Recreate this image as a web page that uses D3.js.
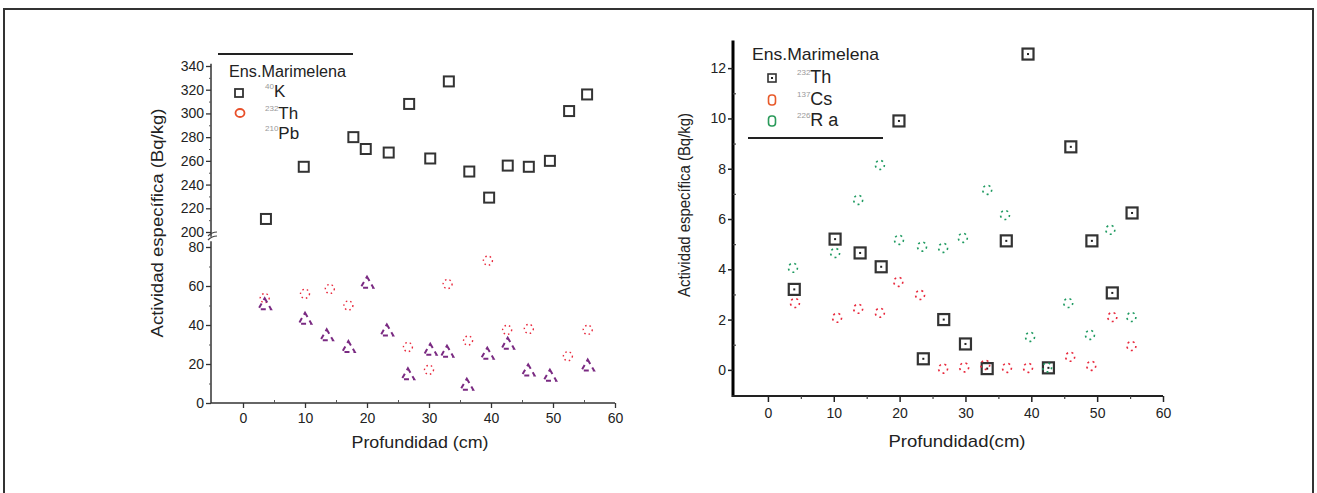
<!DOCTYPE html>
<html>
<head>
<meta charset="utf-8">
<script src="https://cdn.jsdelivr.net/npm/d3@7/dist/d3.min.js"></script>
<style>
  body { margin: 0; background: #fff; }
  svg { display: block; font-family: "Liberation Sans", Arial, sans-serif; }
  .tick text { fill: #222; }
</style>
</head>
<body>
<svg width="1317" height="493"></svg>
<script>
// ---- left panel data (Bq/kg) ----
var depthK  = [3.7, 9.8, 17.8, 19.8, 23.5, 26.8, 30.2, 33.2, 36.5, 39.7, 42.7, 46.1, 49.5, 52.6, 55.5];
var valK    = [211, 255, 280, 270, 267, 308, 262, 327, 251, 229, 256, 255, 260, 302, 316];
var depthTh = [3.5, 10, 14, 17, 26.6, 30, 33, 36.3, 39.5, 42.6, 46.1, 52.4, 55.6];
var valTh   = [53.8, 56, 58.5, 50, 28.7, 17, 61, 32, 73, 37.5, 38, 24, 37.5];
var depthPb = [3.5, 10, 13.5, 17, 20, 23.2, 26.6, 30.2, 32.9, 36.1, 39.4, 42.7, 46, 49.5, 55.6];
var valPb   = [50, 42.5, 34, 28, 61, 36.5, 14, 26.6, 25.6, 8.7, 24.6, 29.7, 16, 13.3, 18.5];

// ---- right panel data (Bq/kg) ----
var depthTh2 = [4, 10.2, 14, 17.2, 19.9, 23.6, 26.7, 30, 33.3, 36.2, 39.5, 42.6, 46, 49.2, 52.3, 55.3];
var valTh2   = [3.2, 5.2, 4.65, 4.1, 9.9, 0.44, 2.0, 1.03, 0.05, 5.13, 12.56, 0.08, 8.87, 5.13, 3.06, 6.24];
var depthCs  = [4.1, 10.5, 13.7, 17, 19.8, 23.1, 26.6, 29.8, 33, 36.3, 39.5, 45.9, 49.1, 52.3, 55.2];
var valCs    = [2.66, 2.07, 2.43, 2.27, 3.5, 2.98, 0.05, 0.1, 0.2, 0.08, 0.08, 0.52, 0.16, 2.1, 0.95];
var depthRa  = [3.8, 10.2, 13.7, 17, 19.9, 23.4, 26.6, 29.6, 33.3, 36, 39.8, 42.4, 45.6, 48.9, 52, 55.2];
var valRa    = [4.06, 4.65, 6.76, 8.15, 5.17, 4.9, 4.85, 5.25, 7.16, 6.16, 1.31, 0.1, 2.66, 1.39, 5.57, 2.1];

var xTicks = [0, 10, 20, 30, 40, 50, 60];
var xMinor = [5, 15, 25, 35, 45, 55];
var yTopTicks = [200, 220, 240, 260, 280, 300, 320, 340];
var yBotTicks = [0, 20, 40, 60, 80];
var yRTicks = [0, 2, 4, 6, 8, 10, 12];

var svg = d3.select("svg");

// outer frame
svg.append("rect")
  .attr("x", 4).attr("y", 9).attr("width", 1309).attr("height", 500)
  .attr("fill", "none").attr("stroke", "#333").attr("stroke-width", 2);

function zip(a, b) { return a.map(function(d, i) { return [d, b[i]]; }); }

function styleAxis(g, col, w) {
  g.select(".domain").remove();
  g.selectAll("line").attr("stroke", col).attr("stroke-width", w);
}

// ================= LEFT PANEL =================
var xL = d3.scaleLinear().domain([-5, 60]).range([212, 615]);
var yLt = d3.scaleLinear().domain([200, 340]).range([232, 66]);
var yLb = d3.scaleLinear().domain([0, 80]).range([403, 247]);
var left = svg.append("g");

// axis lines
left.append("line").attr("x1", 211).attr("x2", 211).attr("y1", yLt(342)).attr("y2", yLt(196))
  .attr("stroke", "#333").attr("stroke-width", 1.5);
left.append("line").attr("x1", 211).attr("x2", 211).attr("y1", yLb(83)).attr("y2", yLb(0))
  .attr("stroke", "#333").attr("stroke-width", 1.5);
left.append("line").attr("x1", 211).attr("x2", xL(60)).attr("y1", 403).attr("y2", 403)
  .attr("stroke", "#333").attr("stroke-width", 1.5);

// break marks
left.append("path").attr("d", "M208,236 q4,-4 9,-4 M208,240 q4,-4 9,-4")
  .attr("fill", "none").attr("stroke", "#444").attr("stroke-width", 1.2);

var gyt = left.append("g").attr("transform", "translate(211,0)")
  .call(d3.axisLeft(yLt).tickValues(yTopTicks).tickSize(5).tickPadding(2));
styleAxis(gyt, "#333", 1.3);
gyt.selectAll("text").attr("font-size", 14);
var gytm = left.append("g").attr("transform", "translate(211,0)")
  .call(d3.axisLeft(yLt).tickValues([210, 230, 250, 270, 290, 310, 330]).tickSize(2).tickFormat(""));
styleAxis(gytm, "#555", 1);

var gyb = left.append("g").attr("transform", "translate(211,0)")
  .call(d3.axisLeft(yLb).tickValues(yBotTicks).tickSize(5).tickPadding(2));
styleAxis(gyb, "#333", 1.3);
gyb.selectAll("text").attr("font-size", 14);
var gybm = left.append("g").attr("transform", "translate(211,0)")
  .call(d3.axisLeft(yLb).tickValues([10, 30, 50, 70]).tickSize(2).tickFormat(""));
styleAxis(gybm, "#555", 1);

var gxl = left.append("g").attr("transform", "translate(0,403)")
  .call(d3.axisBottom(xL).tickValues(xTicks).tickSize(5).tickPadding(5));
styleAxis(gxl, "#333", 1.3);
gxl.selectAll("text").attr("font-size", 14);
var gxlm = left.append("g").attr("transform", "translate(0,403)")
  .call(d3.axisBottom(xL).tickValues(xMinor).tickSize(-3).tickFormat(""));
styleAxis(gxlm, "#555", 1);

left.append("text").attr("x", 420).attr("y", 448).attr("text-anchor", "middle")
  .attr("font-size", 17).attr("textLength", 137).attr("lengthAdjust", "spacingAndGlyphs")
  .attr("fill", "#222").text("Profundidad (cm)");
left.append("text").attr("transform", "translate(163,223) rotate(-90)").attr("text-anchor", "middle")
  .attr("font-size", 16).attr("textLength", 229).attr("lengthAdjust", "spacingAndGlyphs")
  .attr("fill", "#222").text("Actividad específica  (Bq/kg)");

// K squares
left.append("g").selectAll("rect").data(zip(depthK, valK)).enter().append("rect")
  .attr("x", function(d) { return xL(d[0]) - 5; })
  .attr("y", function(d) { return yLt(d[1]) - 5; })
  .attr("width", 10).attr("height", 10)
  .attr("fill", "none").attr("stroke", "#333").attr("stroke-width", 2);

// Th circles (faint, broken)
left.append("g").selectAll("circle").data(zip(depthTh, valTh)).enter().append("circle")
  .attr("cx", function(d) { return xL(d[0]); })
  .attr("cy", function(d) { return yLb(d[1]); })
  .attr("r", 4.5)
  .attr("fill", "none").attr("stroke", "#e8283c").attr("stroke-width", 1.4)
  .attr("stroke-dasharray", "1.5,3");

// Pb triangles
var tri = d3.symbol().type(d3.symbolTriangle).size(70);
left.append("g").selectAll("path").data(zip(depthPb, valPb)).enter().append("path")
  .attr("d", tri)
  .attr("transform", function(d) { return "translate(" + xL(d[0]) + "," + yLb(d[1]) + ")"; })
  .attr("fill", "none").attr("stroke", "#7a2a82").attr("stroke-width", 2)
  .attr("stroke-dasharray", "5,4");

// left legend
left.append("line").attr("x1", 218).attr("x2", 353).attr("y1", 54).attr("y2", 54)
  .attr("stroke", "#222").attr("stroke-width", 1.8);
left.append("text").attr("x", 229).attr("y", 77).attr("font-size", 16)
  .attr("textLength", 117).attr("lengthAdjust", "spacingAndGlyphs").attr("fill", "#222").text("Ens.Marimelena");
left.append("rect").attr("x", 235).attr("y", 89).attr("width", 8).attr("height", 8)
  .attr("fill", "none").attr("stroke", "#333").attr("stroke-width", 1.8);
left.append("ellipse").attr("cx", 240).attr("cy", 113).attr("rx", 4.5).attr("ry", 4)
  .attr("fill", "none").attr("stroke", "#e8502a").attr("stroke-width", 1.8);
var legL = [["40", "K", 97], ["232", "Th", 119], ["210", "Pb", 139]];
legL.forEach(function(d) {
  var t = left.append("text").attr("x", 265).attr("y", d[2]).attr("fill", "#222");
  t.append("tspan").attr("font-size", 8).attr("fill", "#999").attr("dy", -8).text(d[0]);
  t.append("tspan").attr("font-size", 17).attr("dy", 8).text(d[1]);
});

// ================= RIGHT PANEL =================
var xR = d3.scaleLinear().domain([-5, 60]).range([735, 1163]);
var yR = d3.scaleLinear().domain([-1, 13]).range([395, 43]);
var right = svg.append("g");

right.append("line").attr("x1", 733).attr("x2", 733).attr("y1", yR(13.1)).attr("y2", 397)
  .attr("stroke", "#000").attr("stroke-width", 3);
right.append("line").attr("x1", 732).attr("x2", xR(60)).attr("y1", 396).attr("y2", 396)
  .attr("stroke", "#222").attr("stroke-width", 2);

var gyr = right.append("g").attr("transform", "translate(733,0)")
  .call(d3.axisLeft(yR).tickValues(yRTicks).tickSize(5).tickPadding(2));
styleAxis(gyr, "#222", 1.5);
gyr.selectAll("text").attr("font-size", 14);
var gyrm = right.append("g").attr("transform", "translate(733,0)")
  .call(d3.axisRight(yR).tickValues([1, 3, 5, 7, 9, 11]).tickSize(3).tickFormat(""));
styleAxis(gyrm, "#444", 1.2);

var gxr = right.append("g").attr("transform", "translate(0,396)")
  .call(d3.axisBottom(xR).tickValues(xTicks).tickSize(6).tickPadding(6));
styleAxis(gxr, "#222", 1.5);
gxr.selectAll("text").attr("font-size", 14);
var gxrm = right.append("g").attr("transform", "translate(0,396)")
  .call(d3.axisBottom(xR).tickValues(xMinor).tickSize(3).tickFormat(""));
styleAxis(gxrm, "#444", 1.2);

right.append("text").attr("x", 957).attr("y", 447).attr("text-anchor", "middle")
  .attr("font-size", 17).attr("textLength", 137).attr("lengthAdjust", "spacingAndGlyphs")
  .attr("fill", "#222").text("Profundidad(cm)");
right.append("text").attr("transform", "translate(690,205) rotate(-90)").attr("text-anchor", "middle")
  .attr("font-size", 16).attr("textLength", 184).attr("lengthAdjust", "spacingAndGlyphs")
  .attr("fill", "#222").text("Actividad específica (Bq/kg)");

// 232Th squares with dot
var th2 = right.append("g").selectAll("g").data(zip(depthTh2, valTh2)).enter().append("g")
  .attr("transform", function(d) { return "translate(" + xR(d[0]) + "," + yR(d[1]) + ")"; });
th2.append("rect").attr("x", -5.5).attr("y", -5.5).attr("width", 11).attr("height", 11)
  .attr("fill", "none").attr("stroke", "#333").attr("stroke-width", 2.2);
th2.append("rect").attr("x", -1).attr("y", -1).attr("width", 2).attr("height", 2).attr("fill", "#222");

// 137Cs
right.append("g").selectAll("ellipse").data(zip(depthCs, valCs)).enter().append("ellipse")
  .attr("cx", function(d) { return xR(d[0]); })
  .attr("cy", function(d) { return yR(d[1]); })
  .attr("rx", 4.5).attr("ry", 4.5)
  .attr("fill", "none").attr("stroke", "#e8283c").attr("stroke-width", 1.6)
  .attr("stroke-dasharray", "2,3.5");

// 226Ra
right.append("g").selectAll("ellipse").data(zip(depthRa, valRa)).enter().append("ellipse")
  .attr("cx", function(d) { return xR(d[0]); })
  .attr("cy", function(d) { return yR(d[1]); })
  .attr("rx", 4.5).attr("ry", 4.5)
  .attr("fill", "none").attr("stroke", "#1e9a60").attr("stroke-width", 1.6)
  .attr("stroke-dasharray", "2,3.5");

// right legend
right.append("text").attr("x", 752).attr("y", 60).attr("font-size", 17)
  .attr("textLength", 127).attr("lengthAdjust", "spacingAndGlyphs").attr("fill", "#222").text("Ens.Marimelena");
right.append("rect").attr("x", 768).attr("y", 74).attr("width", 8).attr("height", 8)
  .attr("fill", "none").attr("stroke", "#333").attr("stroke-width", 1.6);
right.append("rect").attr("x", 771).attr("y", 77).attr("width", 2).attr("height", 2).attr("fill", "#222");
right.append("rect").attr("x", 768.5).attr("y", 95).attr("width", 7).attr("height", 10).attr("rx", 3)
  .attr("fill", "none").attr("stroke", "#e85a2a").attr("stroke-width", 1.6);
right.append("rect").attr("x", 768.5).attr("y", 116).attr("width", 7).attr("height", 10).attr("rx", 3)
  .attr("fill", "none").attr("stroke", "#2a9a5a").attr("stroke-width", 1.6);
var legR = [["232", "Th", 83], ["137", "Cs", 105], ["226", "R a", 126]];
legR.forEach(function(d) {
  var t = right.append("text").attr("x", 797).attr("y", d[2]).attr("fill", "#222");
  t.append("tspan").attr("font-size", 8).attr("fill", "#999").attr("dy", -8).text(d[0]);
  t.append("tspan").attr("font-size", 18).attr("dy", 8).text(d[1]);
});
right.append("line").attr("x1", 748).attr("x2", 883).attr("y1", 138).attr("y2", 138)
  .attr("stroke", "#222").attr("stroke-width", 1.8);
</script>
</body>
</html>
